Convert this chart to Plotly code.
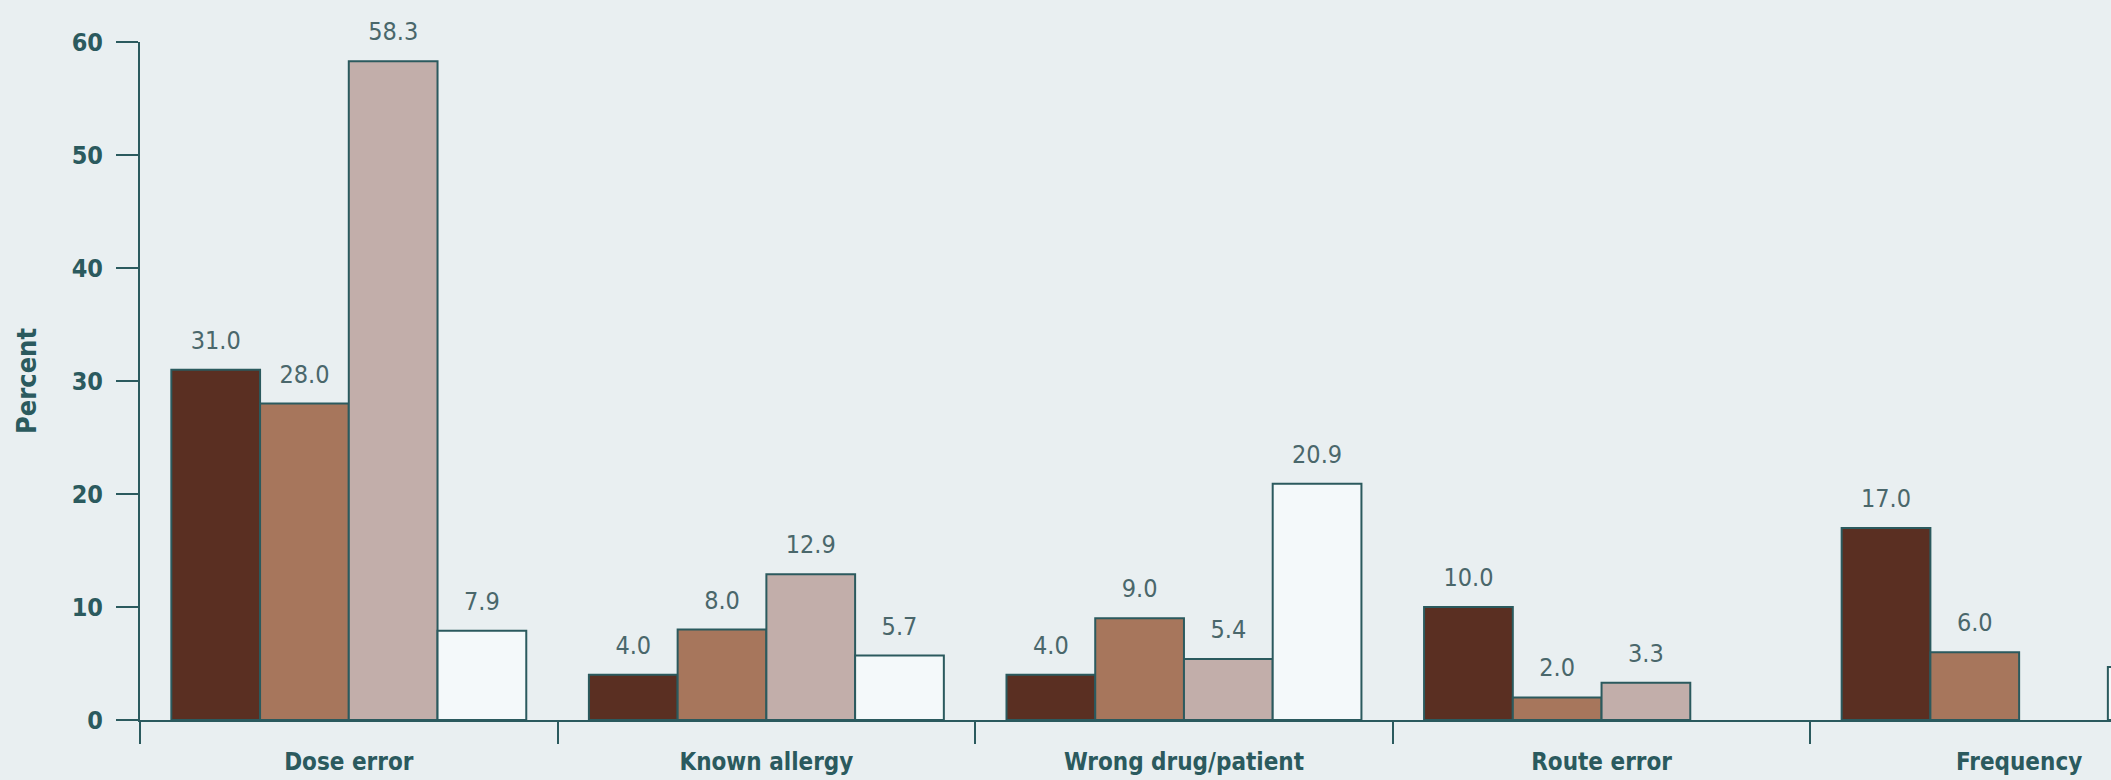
import plotly.graph_objects as go

categories = ["Dose error", "Known allergy", "Wrong drug/patient", "Route error", "Frequency"]
series_names = ["Series 1", "Series 2", "Series 3", "Series 4"]
series_1 = [31.0, 4.0, 4.0, 10.0, 17.0]
series_2 = [28.0, 8.0, 9.0, 2.0, 6.0]
series_3 = [58.3, 12.9, 5.4, 3.3, None]
series_4 = [7.9, 5.7, 20.9, None, 4.7]
series_values = [series_1, series_2, series_3, series_4]
y_ticks = [0, 10, 20, 30, 40, 50, 60]

colors = ["#5a2f22", "#a7765c", "#c2aeaa", "#f4f9fa"]
teal = "#2b5a5e"
label_col = "#4a676b"
font_family = "DejaVu Sans Condensed, Liberation Sans Narrow, sans-serif"

BARGAP = 0.15
X_END = 4.22  # the chart is cropped at the right edge, inside the last group
n_series = len(series_values)
bar_w = (1 - BARGAP) / n_series

fig = go.Figure()
for i, (name, vals, col) in enumerate(zip(series_names, series_values, colors)):
    fig.add_trace(go.Bar(
        x=categories, y=vals, name=name,
        offsetgroup=str(i), alignmentgroup="g",
        marker=dict(color=col, line=dict(color=teal, width=2)),
        showlegend=False, hoverinfo="x+y",
    ))
for i, (name, vals) in enumerate(zip(series_names, series_values)):
    labels = []
    for k, v in enumerate(vals):
        centre = k + (i - (n_series - 1) / 2) * bar_w
        labels.append("" if (v is None or centre > X_END) else f"{v:.1f}")
    fig.add_trace(go.Scatter(
        x=categories, y=vals, name=name + " labels",
        offsetgroup=str(i), alignmentgroup="g",
        mode="markers+text",
        marker=dict(size=22, opacity=0),
        text=labels,
        textposition="top center",
        textfont=dict(family=font_family, size=25, color=label_col),
        cliponaxis=False, showlegend=False, hoverinfo="skip",
    ))

fig.update_layout(
    width=2111, height=780,
    barmode="group", bargap=BARGAP, bargroupgap=0,
    scattermode="group", scattergap=BARGAP,
    paper_bgcolor="#e9eff1", plot_bgcolor="rgba(0,0,0,0)",
    margin=dict(l=140, r=0, t=42, b=60),
    font=dict(family=font_family, color=teal),
)
fig.update_xaxes(
    type="category", range=[-0.5, X_END],
    tickson="boundaries", ticks="outside", ticklen=22, tickwidth=2, tickcolor=teal,
    showline=True, linecolor=teal, linewidth=2,
    showgrid=False, zeroline=False,
    tickfont=dict(family=font_family, size=24, color=teal, weight="bold"),
    ticklabelstandoff=19,
)
fig.update_yaxes(
    range=[0, 60], tickvals=y_ticks, ticks="outside", ticklen=22, tickwidth=2, tickcolor=teal,
    showline=True, linecolor=teal, linewidth=2,
    showgrid=False, zeroline=False,
    tickfont=dict(family=font_family, size=25, color=teal, weight="bold"),
    ticklabelstandoff=8,
    title=dict(text="Percent", font=dict(family=font_family, size=27, color=teal, weight="bold"), standoff=27),
)
fig.write_html(
    "out.html",
    config={"displayModeBar": False},
    post_script="document.body.style.margin='0';document.body.style.background='#e9eff1';",
)
